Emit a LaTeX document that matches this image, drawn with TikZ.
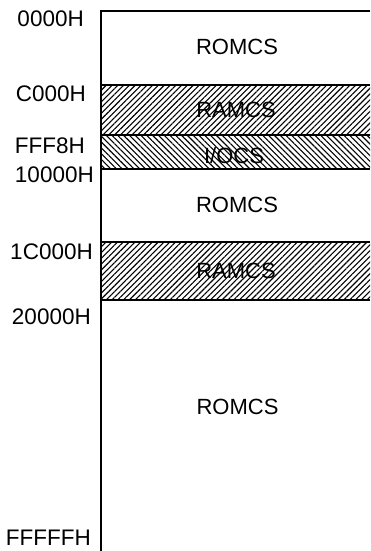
\documentclass[tikz,border=0pt]{standalone}
\usepackage{fontspec}
\setmainfont{Liberation Sans}
\usetikzlibrary{patterns.meta}
\begin{document}
\begin{tikzpicture}[x=1pt,y=-1pt,
  addr/.style={anchor=east, font=\fontsize{22.5}{22.5}\selectfont, inner sep=0pt},
  lbl/.style={font=\fontsize{22}{22}\selectfont, inner sep=0pt},
  hatchne/.style={pattern={Lines[angle=45,distance=4.1pt,line width=1.1pt]}},
  hatchnw/.style={pattern={Lines[angle=-45,distance=4.1pt,line width=1.1pt]}},
  bound/.style={line width=1.8pt}]
\useasboundingbox (0,0) rectangle (370,551);
% boundary coordinates
\coordinate (tl) at (101,11);  \coordinate (tr) at (370,11);
\coordinate (bl) at (101,551);
\coordinate (b1l) at (101,85);  \coordinate (b1r) at (370,85);
\coordinate (b2l) at (101,135); \coordinate (b2r) at (370,135);
\coordinate (b3l) at (101,169); \coordinate (b3r) at (370,169);
\coordinate (b4l) at (101,242); \coordinate (b4r) at (370,242);
\coordinate (b5l) at (101,300); \coordinate (b5r) at (370,300);
% hatched regions
\fill[hatchne] (b1l) rectangle (b2r);
\fill[hatchnw] (b2l) rectangle (b3r);
\fill[hatchne] (b4l) rectangle (b5r);
% frame and boundaries
\draw[bound] (tr) -- (tl) -- (bl);
\draw[bound] (b1l) -- (b1r);
\draw[bound] (b2l) -- (b2r);
\draw[bound] (b3l) -- (b3r);
\draw[bound] (b4l) -- (b4r);
\draw[bound] (b5l) -- (b5r);
% address labels
\node[addr] (a0) at (84,18.5) {0000H};
\node[addr] (a1) at (86,93.5) {C000H};
\node[addr] (a2) at (85,145.5) {FFF8H};
\node[addr] (a3) at (94,174.5) {10000H};
\node[addr] (a4) at (93,251.5) {1C000H};
\node[addr] (a5) at (91,317) {20000H};
\node[addr] (a6) at (91,537.5) {FFFFFH};
% region labels
\node[lbl] (r0) at (237,46.5) {ROMCS};
\node[lbl] (r1) at (236,109.5) {RAMCS};
\node[lbl] (r2) at (234,155.5) {I/OCS};
\node[lbl] (r3) at (237,205) {ROMCS};
\node[lbl] (r4) at (236,271) {RAMCS};
\node[lbl] (r5) at (237.5,406.5) {ROMCS};
\end{tikzpicture}
\end{document}
